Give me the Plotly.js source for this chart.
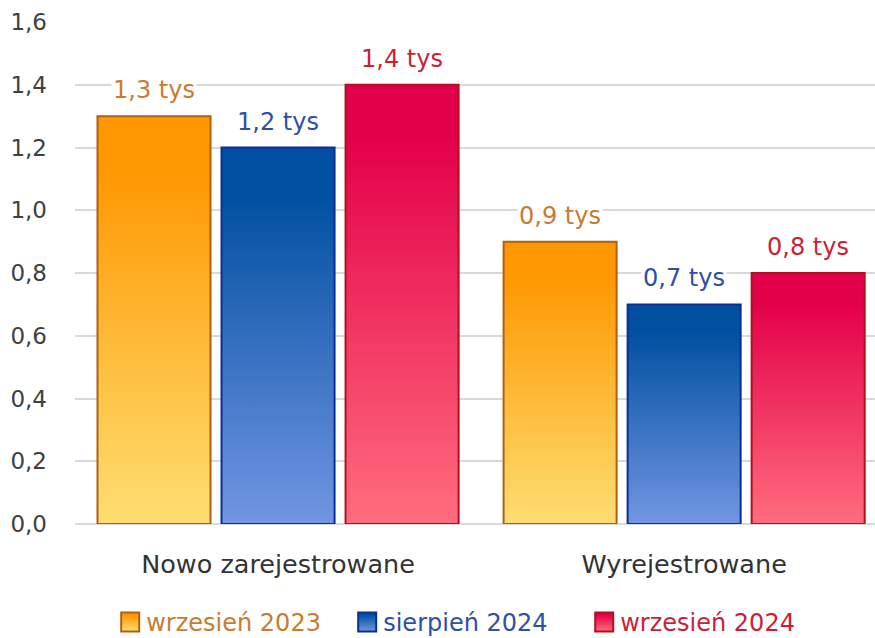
<!DOCTYPE html>
<html>
<head>
<meta charset="utf-8">
<script src="https://cdn.plot.ly/plotly-3.0.1.min.js"></script>
<style>
  html, body { margin: 0; padding: 0; background: #ffffff; }
  #chart { width: 875px; height: 638px; }
</style>
</head>
<body>
<div id="chart"></div>
<script>
// ---- data ----
const categories = ["Nowo zarejestrowane", "Wyrejestrowane"];
const seriesNames = ["wrzesień 2023", "sierpień 2024", "wrzesień 2024"];
const valuesSep2023 = [1.3, 0.9];
const valuesAug2024 = [1.2, 0.7];
const valuesSep2024 = [1.4, 0.8];
const yTickValues = [0, 0.2, 0.4, 0.6, 0.8, 1.0, 1.2, 1.4, 1.6];
const labelUnit = " tys";

// ---- styles ----
const seriesValues = [valuesSep2023, valuesAug2024, valuesSep2024];
const topColors = ["#FF9700", "#004FA0", "#E3004A"];
const bottomColors = ["#FDDE72", "#7296E2", "#FF6D7D"];
const lineColors = ["#B25F12", "#0C2E98", "#B0101F"];
const textColors = ["#C97B30", "#2E4FA6", "#CC1F36"];
const FONT = "DejaVu Sans, sans-serif";

const margin = { l: 74.5, r: 0, t: 22, b: 114, autoexpand: false };
const xRange = [-0.5, 1.47];
const bargap = 0.0837;
const bargroupgap = 0.0887;

const traces = seriesValues.map((vals, i) => ({
  type: "bar",
  name: seriesNames[i],
  x: categories,
  y: vals,
  marker: { color: topColors[i], line: { color: lineColors[i], width: 2 } },
  hoverinfo: "skip"
}));

const plotW = 875 - margin.l - margin.r;
const pxPerCat = plotW / (xRange[1] - xRange[0]);
const slotPx = pxPerCat * (1 - bargap) / seriesValues.length;

const annotations = [];
seriesValues.forEach((vals, i) => {
  vals.forEach((v, j) => {
    annotations.push({
      x: categories[j], y: v, xref: "x", yref: "y",
      text: v.toFixed(1).replace(".", ",") + labelUnit,
      showarrow: false,
      xanchor: "center", yanchor: "bottom",
      xshift: (i - 1) * slotPx,
      yshift: 10,
      bgcolor: "#ffffff",
      borderpad: 1,
      font: { family: FONT, size: 24, color: textColors[i] }
    });
  });
});

const layout = {
  width: 875, height: 638,
  margin: margin,
  paper_bgcolor: "#ffffff",
  plot_bgcolor: "#ffffff",
  separators: ", ",
  font: { family: FONT, size: 23, color: "#404040" },
  barmode: "group",
  bargap: bargap,
  bargroupgap: bargroupgap,
  showlegend: true,
  legend: {
    orientation: "h",
    x: 0.039, xanchor: "left", xref: "paper",
    y: -0.196, yanchor: "middle",
    font: { family: FONT, size: 24, color: "#C97B30" },
    entrywidth: 192,
    traceorder: "normal"
  },
  xaxis: {
    range: xRange,
    showgrid: false,
    showline: false,
    zeroline: false,
    ticks: "",
    ticklabelstandoff: 22,
    tickfont: { family: FONT, size: 25.5, color: "#333333" },
    fixedrange: true
  },
  yaxis: {
    range: [0, 1.6],
    tickvals: yTickValues,
    tickformat: ".1f",
    showgrid: true,
    gridcolor: "#d9d9d9",
    gridwidth: 2,
    zeroline: true,
    zerolinecolor: "#d9d9d9",
    zerolinewidth: 2,
    showline: false,
    ticks: "",
    ticklabelstandoff: 27,
    tickfont: { family: FONT, size: 23, color: "#404040" },
    fixedrange: true
  },
  annotations: annotations
};

function applyGradients(gd) {
  const svg = gd.querySelector(".main-svg");
  if (!svg) return;
  let defs = svg.querySelector("defs");
  if (!defs) {
    defs = document.createElementNS("http://www.w3.org/2000/svg", "defs");
    svg.insertBefore(defs, svg.firstChild);
  }
  seriesValues.forEach((_, i) => {
    const id = "bargrad" + i;
    if (!defs.querySelector("#" + id)) {
      const lg = document.createElementNS("http://www.w3.org/2000/svg", "linearGradient");
      lg.setAttribute("id", id);
      lg.setAttribute("x1", "0"); lg.setAttribute("y1", "0");
      lg.setAttribute("x2", "0"); lg.setAttribute("y2", "1");
      [[0, topColors[i]], [0.12, topColors[i]], [1, bottomColors[i]]].forEach(([o, c]) => {
        const st = document.createElementNS("http://www.w3.org/2000/svg", "stop");
        st.setAttribute("offset", o);
        st.setAttribute("stop-color", c);
        lg.appendChild(st);
      });
      defs.appendChild(lg);
    }
  });
  gd.querySelectorAll(".barlayer .trace").forEach((tr, i) => {
    tr.querySelectorAll(".point path").forEach(p => { p.style.fill = "url(#bargrad" + i + ")"; });
  });
  gd.querySelectorAll(".legend .traces").forEach((tr, i) => {
    tr.querySelectorAll(".legendpoints path").forEach(p => {
      p.setAttribute("d", "M13,9.5H-5V-9.5H13Z");
      p.style.fill = "url(#bargrad" + i + ")";
      p.style.stroke = lineColors[i];
      p.style.strokeWidth = "2px";
    });
    const t = tr.querySelector(".legendtext");
    if (t) t.style.fill = textColors[i];
  });
}

const gd = document.getElementById("chart");
Plotly.newPlot(gd, traces, layout, { displayModeBar: false, staticPlot: true }).then(() => {
  applyGradients(gd);
  gd.on("plotly_afterplot", () => applyGradients(gd));
});
</script>
</body>
</html>
